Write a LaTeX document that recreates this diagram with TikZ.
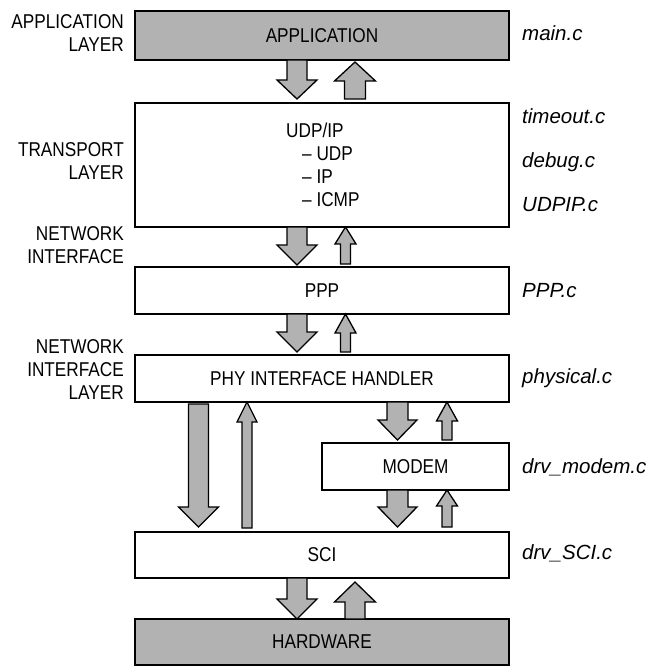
\documentclass[tikz,border=0pt]{standalone}
\usepackage{fontspec}
\setmainfont{Liberation Sans}[FakeStretch=0.86]
\newfontfamily\filefont{Liberation Sans}
\usetikzlibrary{calc}
\definecolor{fillgray}{RGB}{178,178,178}
\tikzset{
  layerbox/.style={draw=black, line width=2pt, fill=white, outer sep=0pt,
    minimum width=374pt, inner sep=0pt, font=\fontsize{20}{23}\selectfont},
  hwbox/.style={layerbox, fill=fillgray},
  layername/.style={anchor=east, align=right, inner sep=0pt,
    font=\fontsize{20}{23}\selectfont},
  boxtext/.style={anchor=base west, inner sep=0pt, font=\fontsize{20}{23}\selectfont},
  filename/.style={anchor=base west, inner sep=0pt, font=\filefont\fontsize{20.5}{23}\selectfont\itshape},
  blockarrow/.style={draw=black, fill=fillgray, line width=1.3pt, line join=miter},
}
% block arrow pointing down: #1 centre x, #2 tail point, #3 tip point,
% #4 half shaft width, #5 half head width, #6 head length
\newcommand\blkdown[6]{%
  \path[blockarrow] let \p1=(#2), \p2=(#3) in
    (#1pt-#4pt,\y1) -- (#1pt+#4pt,\y1) -- (#1pt+#4pt,\y2+#6pt) -- (#1pt+#5pt,\y2+#6pt)
    -- (#1pt,\y2) -- (#1pt-#5pt,\y2+#6pt) -- (#1pt-#4pt,\y2+#6pt) -- cycle;}
% block arrow pointing up, same arguments
\newcommand\blkup[6]{%
  \path[blockarrow] let \p1=(#2), \p2=(#3) in
    (#1pt-#4pt,\y1) -- (#1pt+#4pt,\y1) -- (#1pt+#4pt,\y2-#6pt) -- (#1pt+#5pt,\y2-#6pt)
    -- (#1pt,\y2) -- (#1pt-#5pt,\y2-#6pt) -- (#1pt-#4pt,\y2-#6pt) -- cycle;}
\begin{document}
\begin{tikzpicture}[x=1pt, y=-1pt]
\useasboundingbox (0,0) rectangle (651,666);

% layer boxes
\node[hwbox, minimum height=49pt] (app) at (322,35.5) {APPLICATION};
\node[layerbox, minimum height=124pt] (udp) at (322,165) {};
\node[layerbox, minimum height=47pt] (ppp) at (322,290.5) {PPP};
\node[layerbox, minimum height=47pt] (phy) at (322,378.5) {PHY INTERFACE HANDLER};
\node[layerbox, minimum width=187pt, minimum height=47pt] (modem) at (415.5,466.5) {MODEM};
\node[layerbox, minimum height=46pt] (sci) at (322,555) {SCI};
\node[hwbox, minimum height=46pt] (hw) at (322,642) {HARDWARE};

% contents of the UDP/IP box
\node[boxtext] (udptitle) at (286,137.2) {UDP/IP};
\node[boxtext] (udpitem) at (302,160.2) {– UDP};
\node[boxtext] (ipitem) at (302,183.2) {– IP};
\node[boxtext] (icmpitem) at (302,206.2) {– ICMP};

% layer names on the left
\node[layername] (lapp) at (124,33.5) {APPLICATION\\LAYER};
\node[layername] (ltrans) at (124,161.5) {TRANSPORT\\LAYER};
\node[layername] (lnet) at (124,245) {NETWORK\\INTERFACE};
\node[layername] (lnil) at (124,370) {NETWORK\\INTERFACE\\LAYER};

% source files on the right
\node[filename] (fmain) at (522,40.5) {main.c};
\node[filename] (ftimeout) at (522,123.5) {timeout.c};
\node[filename] (fdebug) at (522,167.5) {debug.c};
\node[filename] (fudpip) at (522,211.5) {UDPIP.c};
\node[filename] (fppp) at (522,297) {PPP.c};
\node[filename] (fphys) at (522,383) {physical.c};
\node[filename] (fmodem) at (522,473) {drv\_modem.c};
\node[filename] (fsci) at (522,559) {drv\_SCI.c};

% data flow between the layers
\blkdown{297}{app.south}{[yshift=4pt]udp.north}{10}{20}{19}
\blkup{355}{[yshift=4pt]udp.north}{[yshift=-2pt]app.south}{10.5}{20.5}{19}
\blkdown{297}{udp.south}{[yshift=2pt]ppp.north}{10}{20}{20}
\blkup{345.5}{[yshift=3pt]ppp.north}{udp.south}{5}{10.5}{17}
\blkdown{297}{ppp.south}{[yshift=3pt]phy.north}{10}{20}{20}
\blkup{345.5}{[yshift=3pt]phy.north}{ppp.south}{5}{10.5}{19}
\blkdown{198.5}{[yshift=-2pt]phy.south}{[yshift=5pt]sci.north}{10}{20}{20}
\blkup{247}{[yshift=4pt]sci.north}{phy.south}{5}{10}{20}
\blkdown{397.5}{phy.south}{[yshift=3pt]modem.north}{10.5}{19.5}{20}
\blkup{447}{[yshift=3pt]modem.north}{phy.south}{5}{10.5}{19}
\blkdown{397.5}{modem.south}{[yshift=5pt]sci.north}{10.5}{19.5}{20}
\blkup{447}{[yshift=5pt]sci.north}{modem.south}{5}{10.5}{16}
\blkdown{297}{sci.south}{hw.north}{10}{20}{20}
\blkup{355}{hw.north}{[yshift=-4pt]sci.south}{10}{20.5}{20}
\end{tikzpicture}
\end{document}
